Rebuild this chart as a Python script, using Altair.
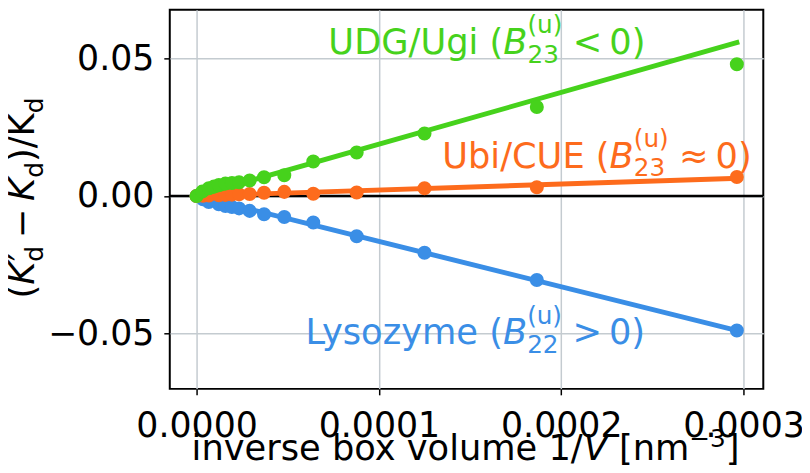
import altair as alt
import pandas as pd

# ---------------- data ----------------
series_names = ["Lysozyme", "Ubi/CUE", "UDG/Ugi"]
series_colors = ["#3a8ee6", "#fd6b1c", "#46d21c"]

lys_x = [0.0, 0.0000035, 0.0000067, 0.0000122, 0.0000158, 0.0000194, 0.0000233,
         0.0000291, 0.0000370, 0.0000481, 0.0000640, 0.0000878, 0.0001250,
         0.0001866, 0.0002963]
lys_y = [0.0, -0.0012, -0.0022, -0.0030, -0.0036, -0.0040, -0.0045, -0.0054,
         -0.0066, -0.0076, -0.0096, -0.0146, -0.0206, -0.0305, -0.0488]

ubi_x = [0.0, 0.0000035, 0.0000067, 0.0000122, 0.0000158, 0.0000194, 0.0000233,
         0.0000291, 0.0000370, 0.0000481, 0.0000640, 0.0000878, 0.0001250,
         0.0001866, 0.0002963]
ubi_y = [0.0, 0.0001, 0.0002, 0.0003, 0.0004, 0.0005, 0.0006, 0.0007, 0.0012,
         0.0015, 0.0008, 0.0013, 0.0028, 0.0032, 0.0069]

udg_x = [0.0, 0.0000031, 0.0000067, 0.0000095, 0.0000122, 0.0000158, 0.0000194,
         0.0000233, 0.0000291, 0.0000370, 0.0000481, 0.0000640, 0.0000878,
         0.0001250, 0.0001866, 0.0002963]
udg_y = [0.0, 0.0016, 0.0028, 0.0034, 0.0040, 0.0045, 0.0047, 0.0050, 0.0056,
         0.0068, 0.0075, 0.0125, 0.0158, 0.0227, 0.0323, 0.0478]

fit_x = [0.0, 0.0002963]
lys_fit_y = [0.0, -0.0488]
ubi_fit_y = [0.0, 0.0064]
udg_fit_y = [0.0, 0.0557]

x_ticks = [0.0, 0.0001, 0.0002, 0.0003]
y_ticks = [-0.05, 0.0, 0.05]
x_domain = [-0.0000147, 0.0003108]
y_domain = [-0.07, 0.0676]

anno_prefix = ["Lysozyme (", "Ubi/CUE (", "UDG/Ugi ("]
anno_sub = ["22", "23", "23"]
anno_rel = [">\u20090)", "\u2248\u20090)", "<\u20090)"]
anno_x = [0.000168, 0.0002265, 0.0001682]
anno_y = [-0.05385, 0.01032, 0.05155]

# ---------------- helpers ----------------
FONT = "DejaVu Sans"
FS = 35.5
SFS = 24.85


def X():
    return alt.X("x:Q", scale=alt.Scale(domain=x_domain, nice=False, zero=False),
                 axis=alt.Axis(values=x_ticks, format=".4f", title=None))


def Y():
    return alt.Y("y:Q", scale=alt.Scale(domain=y_domain, nice=False, zero=False),
                 axis=alt.Axis(values=y_ticks, format=".2f", title=None))


one = pd.DataFrame({"a": [0]})

layers = []

zero_df = pd.DataFrame({"y": [0.0]})
layers.append(alt.Chart(zero_df).mark_rule(color="black", strokeWidth=2.5).encode(y=Y()))

series = [
    (lys_x, lys_y, lys_fit_y),
    (ubi_x, ubi_y, ubi_fit_y),
    (udg_x, udg_y, udg_fit_y),
]
for i, (sx, sy, fy) in enumerate(series):
    col = series_colors[i]
    fdf = pd.DataFrame({"x": fit_x, "y": fy, "series": series_names[i]})
    pdf = pd.DataFrame({"x": sx, "y": sy, "series": series_names[i]})
    layers.append(alt.Chart(fdf).mark_line(color=col, strokeWidth=5, strokeCap="square")
                  .encode(x=X(), y=Y()))
    layers.append(alt.Chart(pdf).mark_circle(color=col, size=200, opacity=1)
                  .encode(x=X(), y=Y()))

# annotations (anchored at the start of the italic B)
B_W = 24.4
SUP_W = 35.1
GAP = 10.5
for i in range(3):
    col = series_colors[i]
    adf = pd.DataFrame({"x": [anno_x[i]], "y": [anno_y[i]]})
    base = alt.Chart(adf)
    common = dict(font=FONT, color=col, baseline="alphabetic")
    layers.append(base.mark_text(align="right", fontSize=FS, **common)
                  .encode(x=X(), y=Y(), text=alt.value(anno_prefix[i])))
    layers.append(base.mark_text(align="left", fontSize=FS, fontStyle="italic", **common)
                  .encode(x=X(), y=Y(), text=alt.value("B")))
    layers.append(base.mark_text(align="left", fontSize=SFS, dx=B_W, dy=-21, **common)
                  .encode(x=X(), y=Y(), text=alt.value("(u)")))
    layers.append(base.mark_text(align="left", fontSize=SFS, dx=B_W, dy=9, **common)
                  .encode(x=X(), y=Y(), text=alt.value(anno_sub[i])))
    layers.append(base.mark_text(align="left", fontSize=FS, dx=B_W + SUP_W + GAP, **common)
                  .encode(x=X(), y=Y(), text=alt.value(anno_rel[i])))

# x-axis title pieces: inverse box volume 1/V [nm^-3]
xt_y = 454
xt_pieces = [
    ("inverse box volume 1/", 22, xt_y, FS, "normal"),
    ("V", 417, xt_y, FS, "italic"),
    ("[nm", 452.6, xt_y, FS, "normal"),
    ("\u22123", 523.5, xt_y - 13, SFS, "normal"),
    ("]", 560.1, xt_y, FS, "normal"),
]
for txt, px, py, fs, st in xt_pieces:
    layers.append(alt.Chart(one).mark_text(align="left", baseline="alphabetic", font=FONT,
                                           fontSize=fs, fontStyle=st, color="black")
                  .encode(x=alt.value(px), y=alt.value(py), text=alt.value(txt)))

# y-axis title pieces: (K'_d - K_d)/K_d, rotated
yt_x = -137
yt_y0 = 291
yt_pieces = [
    ("(", 0.0, 0, FS, "normal"),
    ("K", 13.8, 0, FS, "italic"),
    ("\u2032", 37.6, 0, FS, "normal"),
    ("d", 37.1, 9, SFS, "normal"),
    ("\u2212", 60.8, 0, FS, "normal"),
    ("K", 98.4, 0, FS, "italic"),
    ("d", 121.7, 9, SFS, "normal"),
    (")/K", 137.5, 0, FS, "normal"),
    ("d", 186.6, 9, SFS, "normal"),
]
for txt, off, sh, fs, st in yt_pieces:
    layers.append(alt.Chart(one).mark_text(align="left", baseline="alphabetic", font=FONT,
                                           fontSize=fs, fontStyle=st, color="black", angle=270)
                  .encode(x=alt.value(yt_x + sh), y=alt.value(yt_y0 - off), text=alt.value(txt)))

chart = (
    alt.layer(*layers)
    .properties(width=598, height=382,
                autosize=alt.AutoSizeParams(type="none"),
                padding={"left": 163, "top": 0, "right": 39, "bottom": 82})
    .configure_view(stroke="black", strokeWidth=2)
    .configure_axis(labelFont=FONT, labelFontSize=35, labelColor="black",
                    tickColor="black", tickWidth=1.5, tickSize=6, domain=False,
                    grid=True, gridColor="#c4cbd0", gridWidth=1.5)
    .configure_axisX(labelPadding=14)
    .configure_axisY(labelPadding=10)
)

chart.save("out.html", embed_options={"renderer": "svg", "actions": False})
